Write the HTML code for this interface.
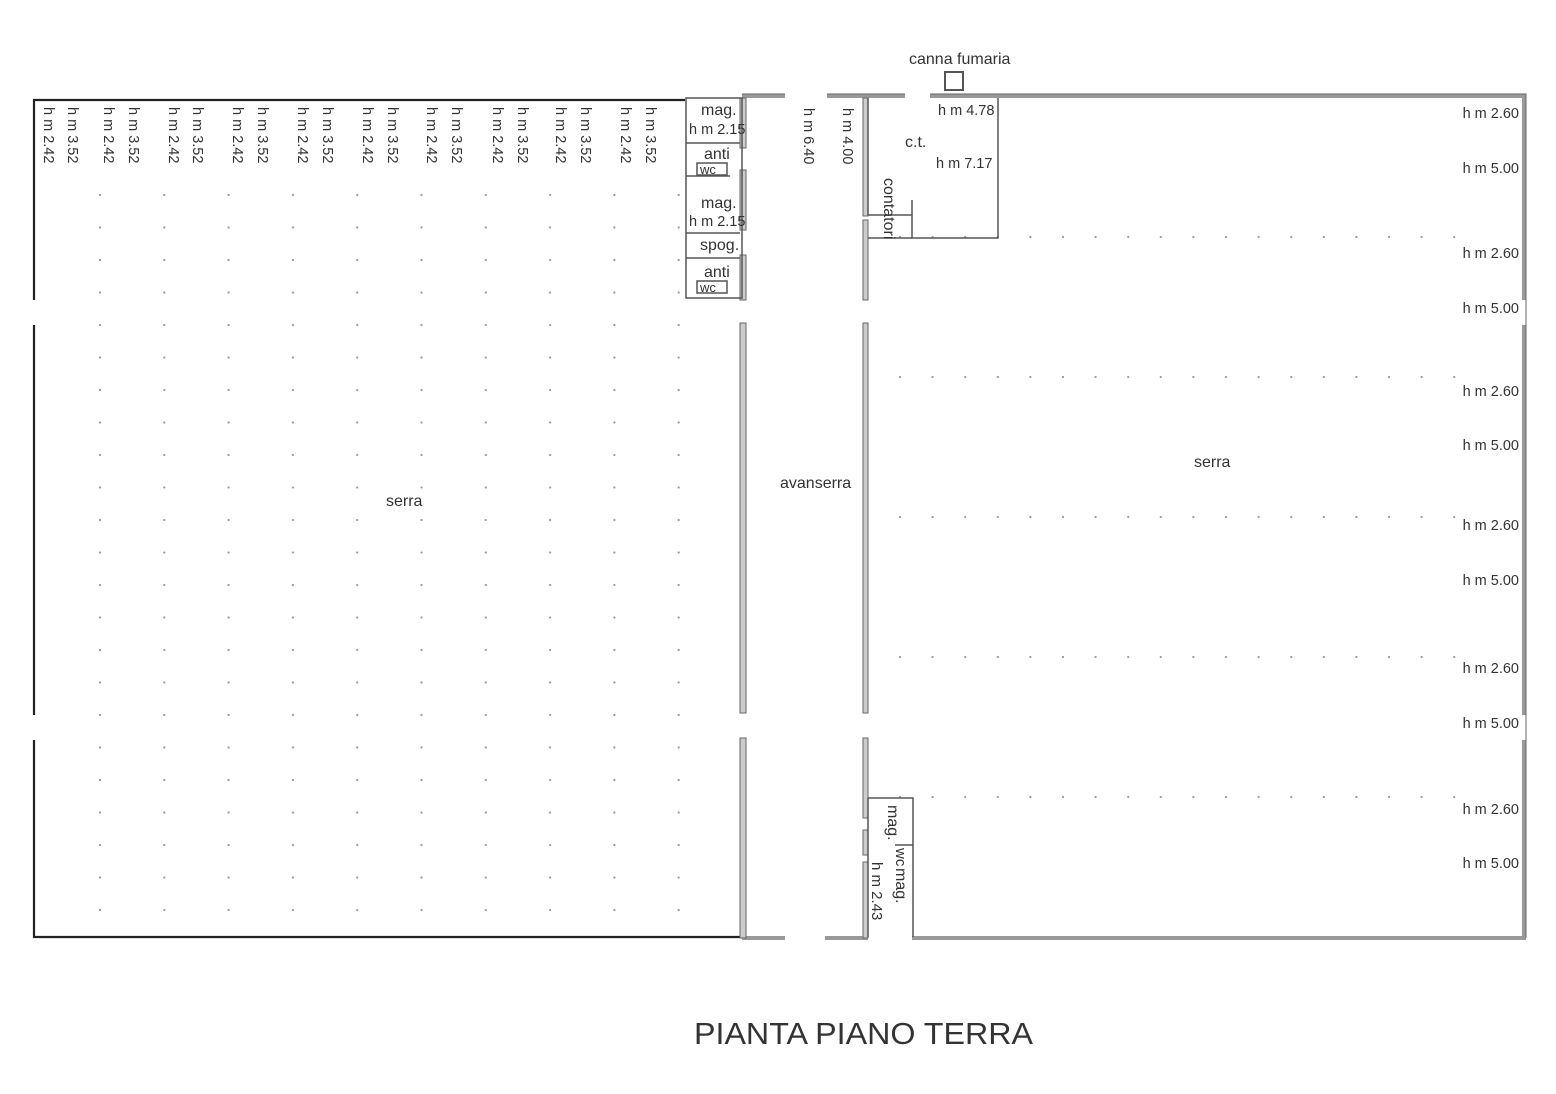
<!DOCTYPE html>
<html><head><style>body{margin:0;background:#fff}svg{display:block}text{font-family:"Liberation Sans",sans-serif;fill:#333}</style></head>
<body>
<svg width="1556" height="1094" viewBox="0 0 1556 1094" xmlns="http://www.w3.org/2000/svg">
<defs>
<pattern id="dl" x="98" y="128" width="64.3" height="32.5" patternUnits="userSpaceOnUse"><circle cx="2" cy="2" r="1.1" fill="#999"/></pattern>
<pattern id="dr" x="898" y="0" width="32.6" height="2000" patternUnits="userSpaceOnUse"><circle cx="2" cy="237" r="1.1" fill="#999"/><circle cx="2" cy="377" r="1.1" fill="#999"/><circle cx="2" cy="517" r="1.1" fill="#999"/><circle cx="2" cy="657" r="1.1" fill="#999"/><circle cx="2" cy="797" r="1.1" fill="#999"/></pattern>
</defs>
<rect x="80" y="180" width="610" height="740" fill="url(#dl)"/>
<rect x="880" y="220" width="590" height="600" fill="url(#dr)"/>
<g stroke="#222" stroke-width="2.2" fill="none">
<path d="M685 100 H34 V300 M34 325 V715 M34 740 V937 H742"/>
</g>
<g stroke="#999" stroke-width="4" fill="none">
<path d="M742 96 H785 M827 96 H905 M930 96 H1524 V300 M1524 325 V715 M1524 740 V938 H912 M868 938 H825 M785 938 H742"/>
</g>
<g stroke="#666" stroke-width="1" fill="none">
<path d="M742 94 H785 M827 94 H905 M930 94 H1526 V938"/>
</g>
<rect x="945" y="72" width="18" height="18" fill="none" stroke="#555" stroke-width="2"/>
<g fill="#ccc" stroke="#666" stroke-width="1">
<rect x="740" y="323" width="6" height="390"/>
<rect x="740" y="738" width="6" height="200"/>
<rect x="863" y="323" width="5" height="390"/>
<rect x="863" y="738" width="5" height="80"/>
<rect x="863" y="830" width="5" height="25"/>
<rect x="863" y="862" width="5" height="76"/>
<rect x="863" y="98" width="5" height="118"/>
<rect x="863" y="220" width="5" height="80"/>
<rect x="740" y="98" width="6" height="50"/>
<rect x="740" y="170" width="6" height="60"/>
<rect x="740" y="255" width="6" height="45"/>
</g>
<g fill="none" stroke="#555" stroke-width="1.5">
<rect x="686" y="98" width="56" height="200"/>
<path d="M686 143 H740 M686 176 H730 M686 233 H740 M686 258 H740"/>
<rect x="697" y="163" width="30" height="12"/>
<rect x="697" y="281" width="30" height="12"/>
<path d="M868 98 V215 H912 V238 H998 V98"/>
<path d="M912 200 V215 M868 238 H912"/>
<path d="M868 798 H913 V937 M868 798 V937"/>
<path d="M895 845 H913"/>
</g>
<g font-size="14.5">
<g transform="rotate(90)">
<text x="107" y="-44">h m 2.42</text><text x="107" y="-68">h m 3.52</text>
<text x="107" y="-104">h m 2.42</text><text x="107" y="-129">h m 3.52</text>
<text x="107" y="-169">h m 2.42</text><text x="107" y="-193">h m 3.52</text>
<text x="107" y="-233">h m 2.42</text><text x="107" y="-258">h m 3.52</text>
<text x="107" y="-298">h m 2.42</text><text x="107" y="-323">h m 3.52</text>
<text x="107" y="-363">h m 2.42</text><text x="107" y="-388">h m 3.52</text>
<text x="107" y="-427">h m 2.42</text><text x="107" y="-452">h m 3.52</text>
<text x="107" y="-493">h m 2.42</text><text x="107" y="-518">h m 3.52</text>
<text x="107" y="-556">h m 2.42</text><text x="107" y="-581">h m 3.52</text>
<text x="107" y="-621">h m 2.42</text><text x="107" y="-646">h m 3.52</text>
<text x="108" y="-804">h m 6.40</text><text x="108" y="-843">h m 4.00</text>
<text x="178" y="-884" font-size="16">contatori</text>
<text x="805" y="-888" font-size="16">mag.</text>
<text x="848" y="-896" font-size="15">wc</text>
<text x="862" y="-872" font-size="15">h m 2.43</text>
<text x="868" y="-896" font-size="16">mag.</text>
</g>
<text x="701" y="115" font-size="16">mag.</text><text x="689" y="134">h m 2.15</text>
<text x="704" y="159" font-size="16">anti</text><text x="700" y="174" font-size="13">wc</text>
<text x="701" y="208" font-size="16">mag.</text><text x="689" y="226">h m 2.15</text>
<text x="700" y="250" font-size="16">spog.</text>
<text x="704" y="277" font-size="16">anti</text><text x="700" y="292" font-size="13">wc</text>
<text x="938" y="115">h m 4.78</text>
<text x="905" y="147" font-size="16">c.t.</text>
<text x="936" y="168">h m 7.17</text>
<text x="909" y="64" font-size="16">canna fumaria</text>
<text x="386" y="506" font-size="16">serra</text>
<text x="780" y="488" font-size="16">avanserra</text>
<text x="1194" y="467" font-size="16">serra</text>
<g text-anchor="end">
<text x="1519" y="118">h m 2.60</text><text x="1519" y="173">h m 5.00</text>
<text x="1519" y="258">h m 2.60</text><text x="1519" y="313">h m 5.00</text>
<text x="1519" y="396">h m 2.60</text><text x="1519" y="450">h m 5.00</text>
<text x="1519" y="530">h m 2.60</text><text x="1519" y="585">h m 5.00</text>
<text x="1519" y="673">h m 2.60</text><text x="1519" y="728">h m 5.00</text>
<text x="1519" y="814">h m 2.60</text><text x="1519" y="868">h m 5.00</text>
</g>
</g>
<text x="694" y="1044" font-size="31" fill="#333" textLength="339" lengthAdjust="spacingAndGlyphs">PIANTA PIANO TERRA</text>
</svg>
</body></html>
